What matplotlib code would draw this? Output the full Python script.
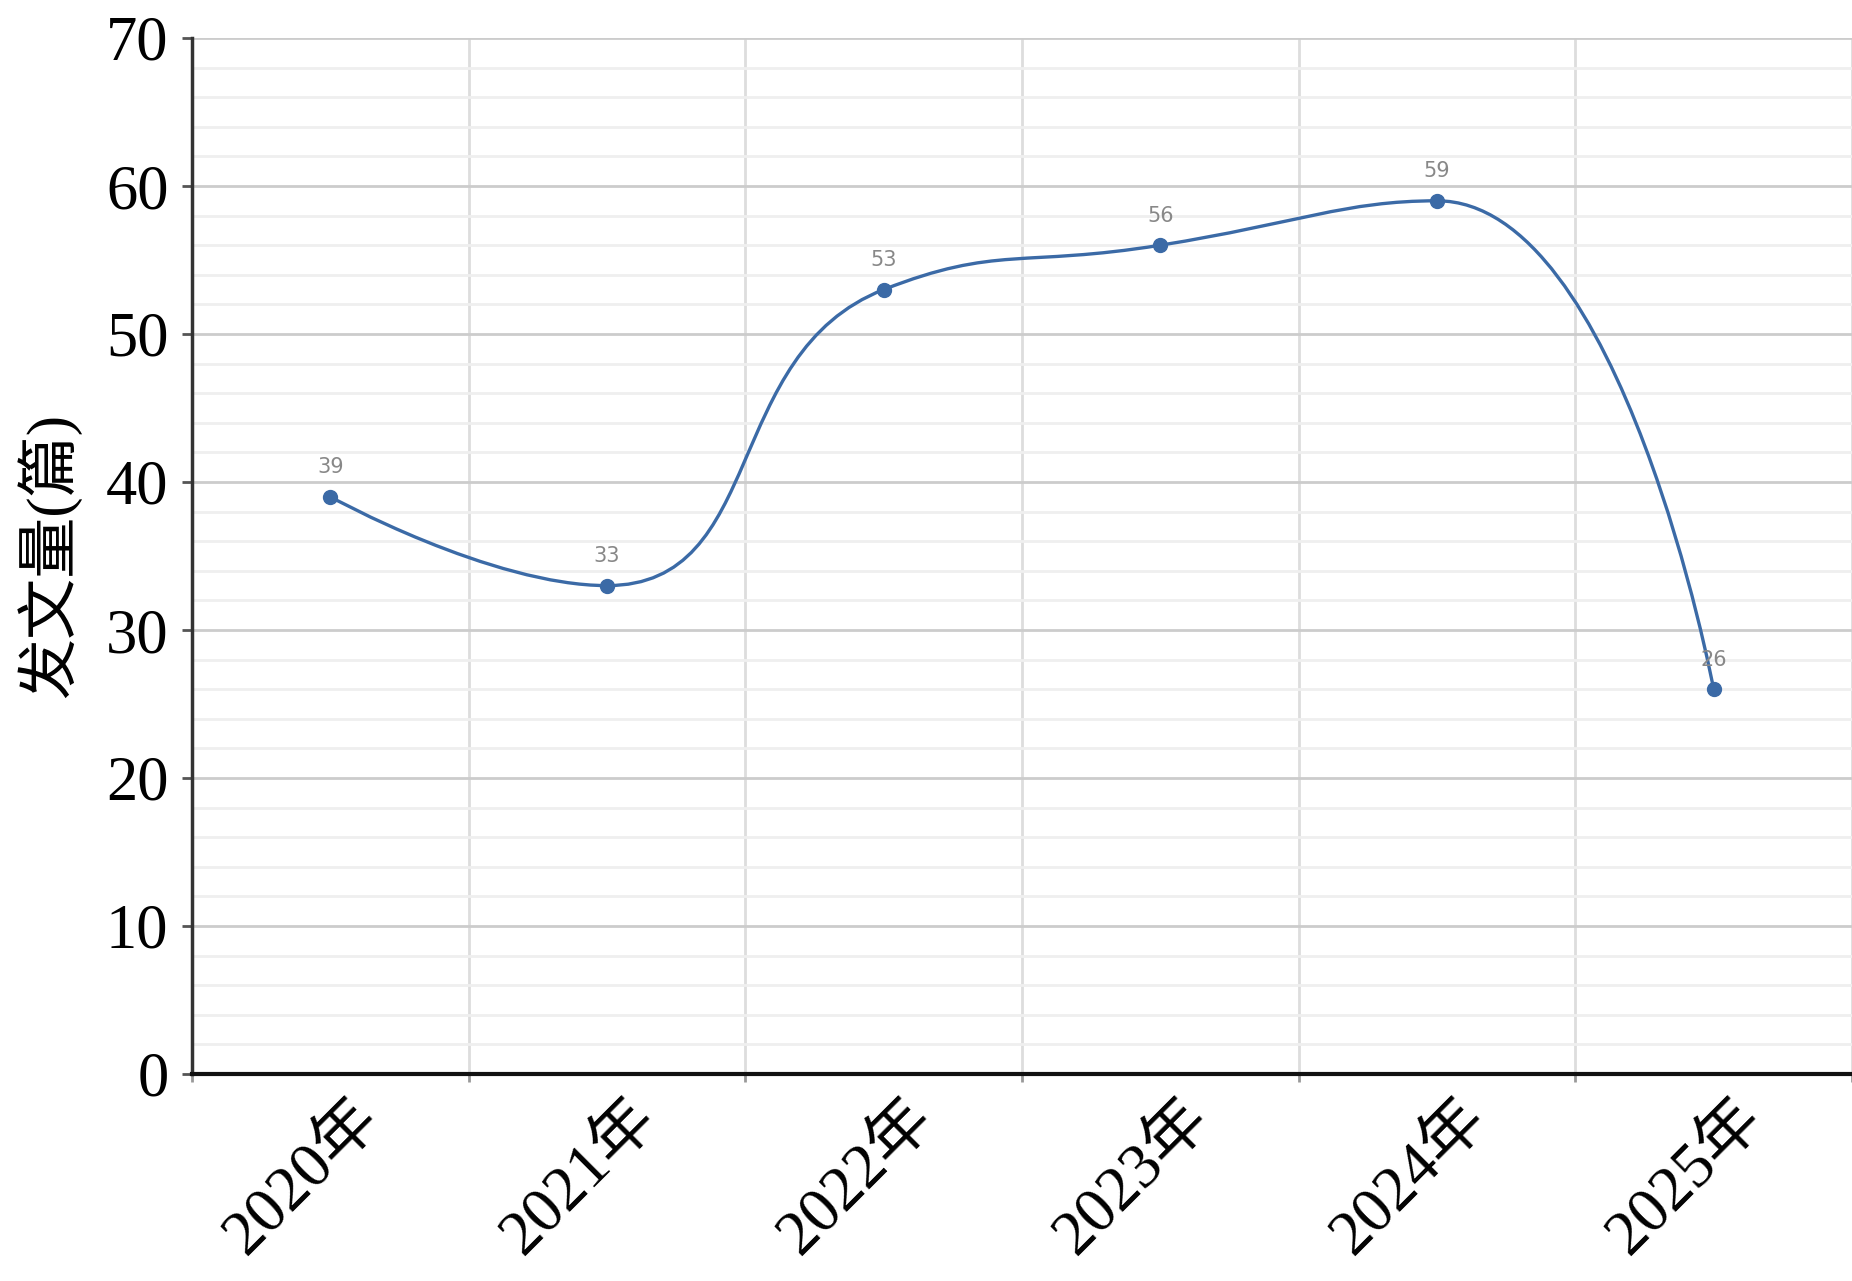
import numpy as np
import matplotlib
matplotlib.use("Agg")
import matplotlib.pyplot as plt
import matplotlib.transforms as mtransforms
from matplotlib.path import Path
from matplotlib.patches import PathPatch
from matplotlib.ticker import MultipleLocator, FixedLocator, NullFormatter

plt.rcParams['font.family'] = ['Liberation Serif', 'Noto Sans CJK SC', 'DejaVu Sans']

# data
years = ["2020年", "2021年", "2022年", "2023年", "2024年", "2025年"]
counts = [39, 33, 53, 56, 59, 26]
y_label = "发文量(篇)"

LINE_COLOR = "#3b6aa6"
SX, SY = 277.0, 1036.0 / 70.0   # pixels per category / per unit, for smoothing


def smooth_path(xs, ys, smooth=0.5):
    """Echarts-like smoothed bezier through the points (computed in pixel space)."""
    px = [x * SX for x in xs]
    py = [y * SY for y in ys]
    n = len(px)
    verts = [(px[0], py[0])]
    codes = [Path.MOVETO]
    cp0x, cp0y = px[0], py[0]
    for i in range(1, n):
        x, y = px[i], py[i]
        prevx, prevy = px[i - 1], py[i - 1]
        if i == n - 1:
            cp1x, cp1y = x, y
            ncp0x, ncp0y = x, y
        else:
            nx, ny = px[i + 1], py[i + 1]
            vx, vy = nx - prevx, ny - prevy
            lp = np.hypot(x - prevx, y - prevy)
            ln = np.hypot(nx - x, ny - y)
            r = ln / (ln + lp)
            ncp0x = x + vx * smooth * r
            ncp0y = y + vy * smooth * r
            ncp0x = min(ncp0x, max(nx, x)); ncp0y = min(ncp0y, max(ny, y))
            ncp0x = max(ncp0x, min(nx, x)); ncp0y = max(ncp0y, min(ny, y))
            vx, vy = ncp0x - x, ncp0y - y
            cp1x = x - vx * lp / ln
            cp1y = y - vy * lp / ln
            cp1x = min(cp1x, max(prevx, x)); cp1y = min(cp1y, max(prevy, y))
            cp1x = max(cp1x, min(prevx, x)); cp1y = max(cp1y, min(prevy, y))
            vx, vy = x - cp1x, y - cp1y
            ncp0x = x + vx * ln / lp
            ncp0y = y + vy * ln / lp
        verts += [(cp0x, cp0y), (cp1x, cp1y), (x, y)]
        codes += [Path.CURVE4] * 3
        cp0x, cp0y = ncp0x, ncp0y
    verts = [(vx_ / SX, vy_ / SY) for vx_, vy_ in verts]
    return Path(verts, codes)


fig = plt.figure(figsize=(18.52, 12.81), dpi=100)
ax = fig.add_axes([192 / 1852, 1 - 1074 / 1281, 1 - 192 / 1852, (1074 - 38) / 1281])

xs = np.arange(len(years))
ax.set_xlim(-0.5, len(years) - 0.5)
ax.set_ylim(0, 70)

# grid
ax.set_axisbelow(True)
ax.yaxis.set_major_locator(MultipleLocator(10))
ax.yaxis.set_minor_locator(MultipleLocator(2))
ax.grid(axis="y", which="major", color="#cccccc", lw=2)
ax.grid(axis="y", which="minor", color="#efefef", lw=2)
ax.xaxis.set_major_locator(FixedLocator(np.arange(-0.5, len(years), 1.0)))
ax.xaxis.set_major_formatter(NullFormatter())
ax.xaxis.set_minor_locator(FixedLocator(xs))
ax.set_xticklabels(years, minor=True)
ax.grid(axis="x", which="major", color="#dddddd", lw=2)

# line + markers
ax.add_patch(PathPatch(smooth_path(xs, counts), facecolor="none",
                       edgecolor=LINE_COLOR, lw=2.4, zorder=3))
ax.plot(xs, counts, "o", color=LINE_COLOR, ms=10, zorder=4)
for x, v in zip(xs, counts):
    ax.annotate(str(v), (x, v), xytext=(0, 14), textcoords="offset points",
                ha="center", va="bottom", fontsize=15, color="#888888",
                family="DejaVu Sans", zorder=5)

# spines / ticks
for s in ["top", "right"]:
    ax.spines[s].set_visible(False)
ax.spines["left"].set_color("#333333")
ax.spines["left"].set_linewidth(2.5)
ax.spines["bottom"].set_color("#111111")
ax.spines["bottom"].set_linewidth(3)

ax.tick_params(axis="y", which="major", length=7, width=2, color="#555555",
               labelsize=45, pad=10)
ax.tick_params(axis="y", which="minor", length=0)
ax.tick_params(axis="x", which="major", length=6, width=2, color="#999999")
ax.tick_params(axis="x", which="minor", length=0, labelsize=46, pad=8)
for lab in ax.get_xticklabels(minor=True):
    lab.set_rotation(45)
    lab.set_ha("right")
    lab.set_va("center")
    lab.set_rotation_mode("anchor")
    lab.set_transform(lab.get_transform() +
                      mtransforms.ScaledTranslation(0.4, -0.25, fig.dpi_scale_trans))

ax.set_ylabel(y_label, fontsize=44, labelpad=18)

fig.savefig("out.png", dpi=100)
